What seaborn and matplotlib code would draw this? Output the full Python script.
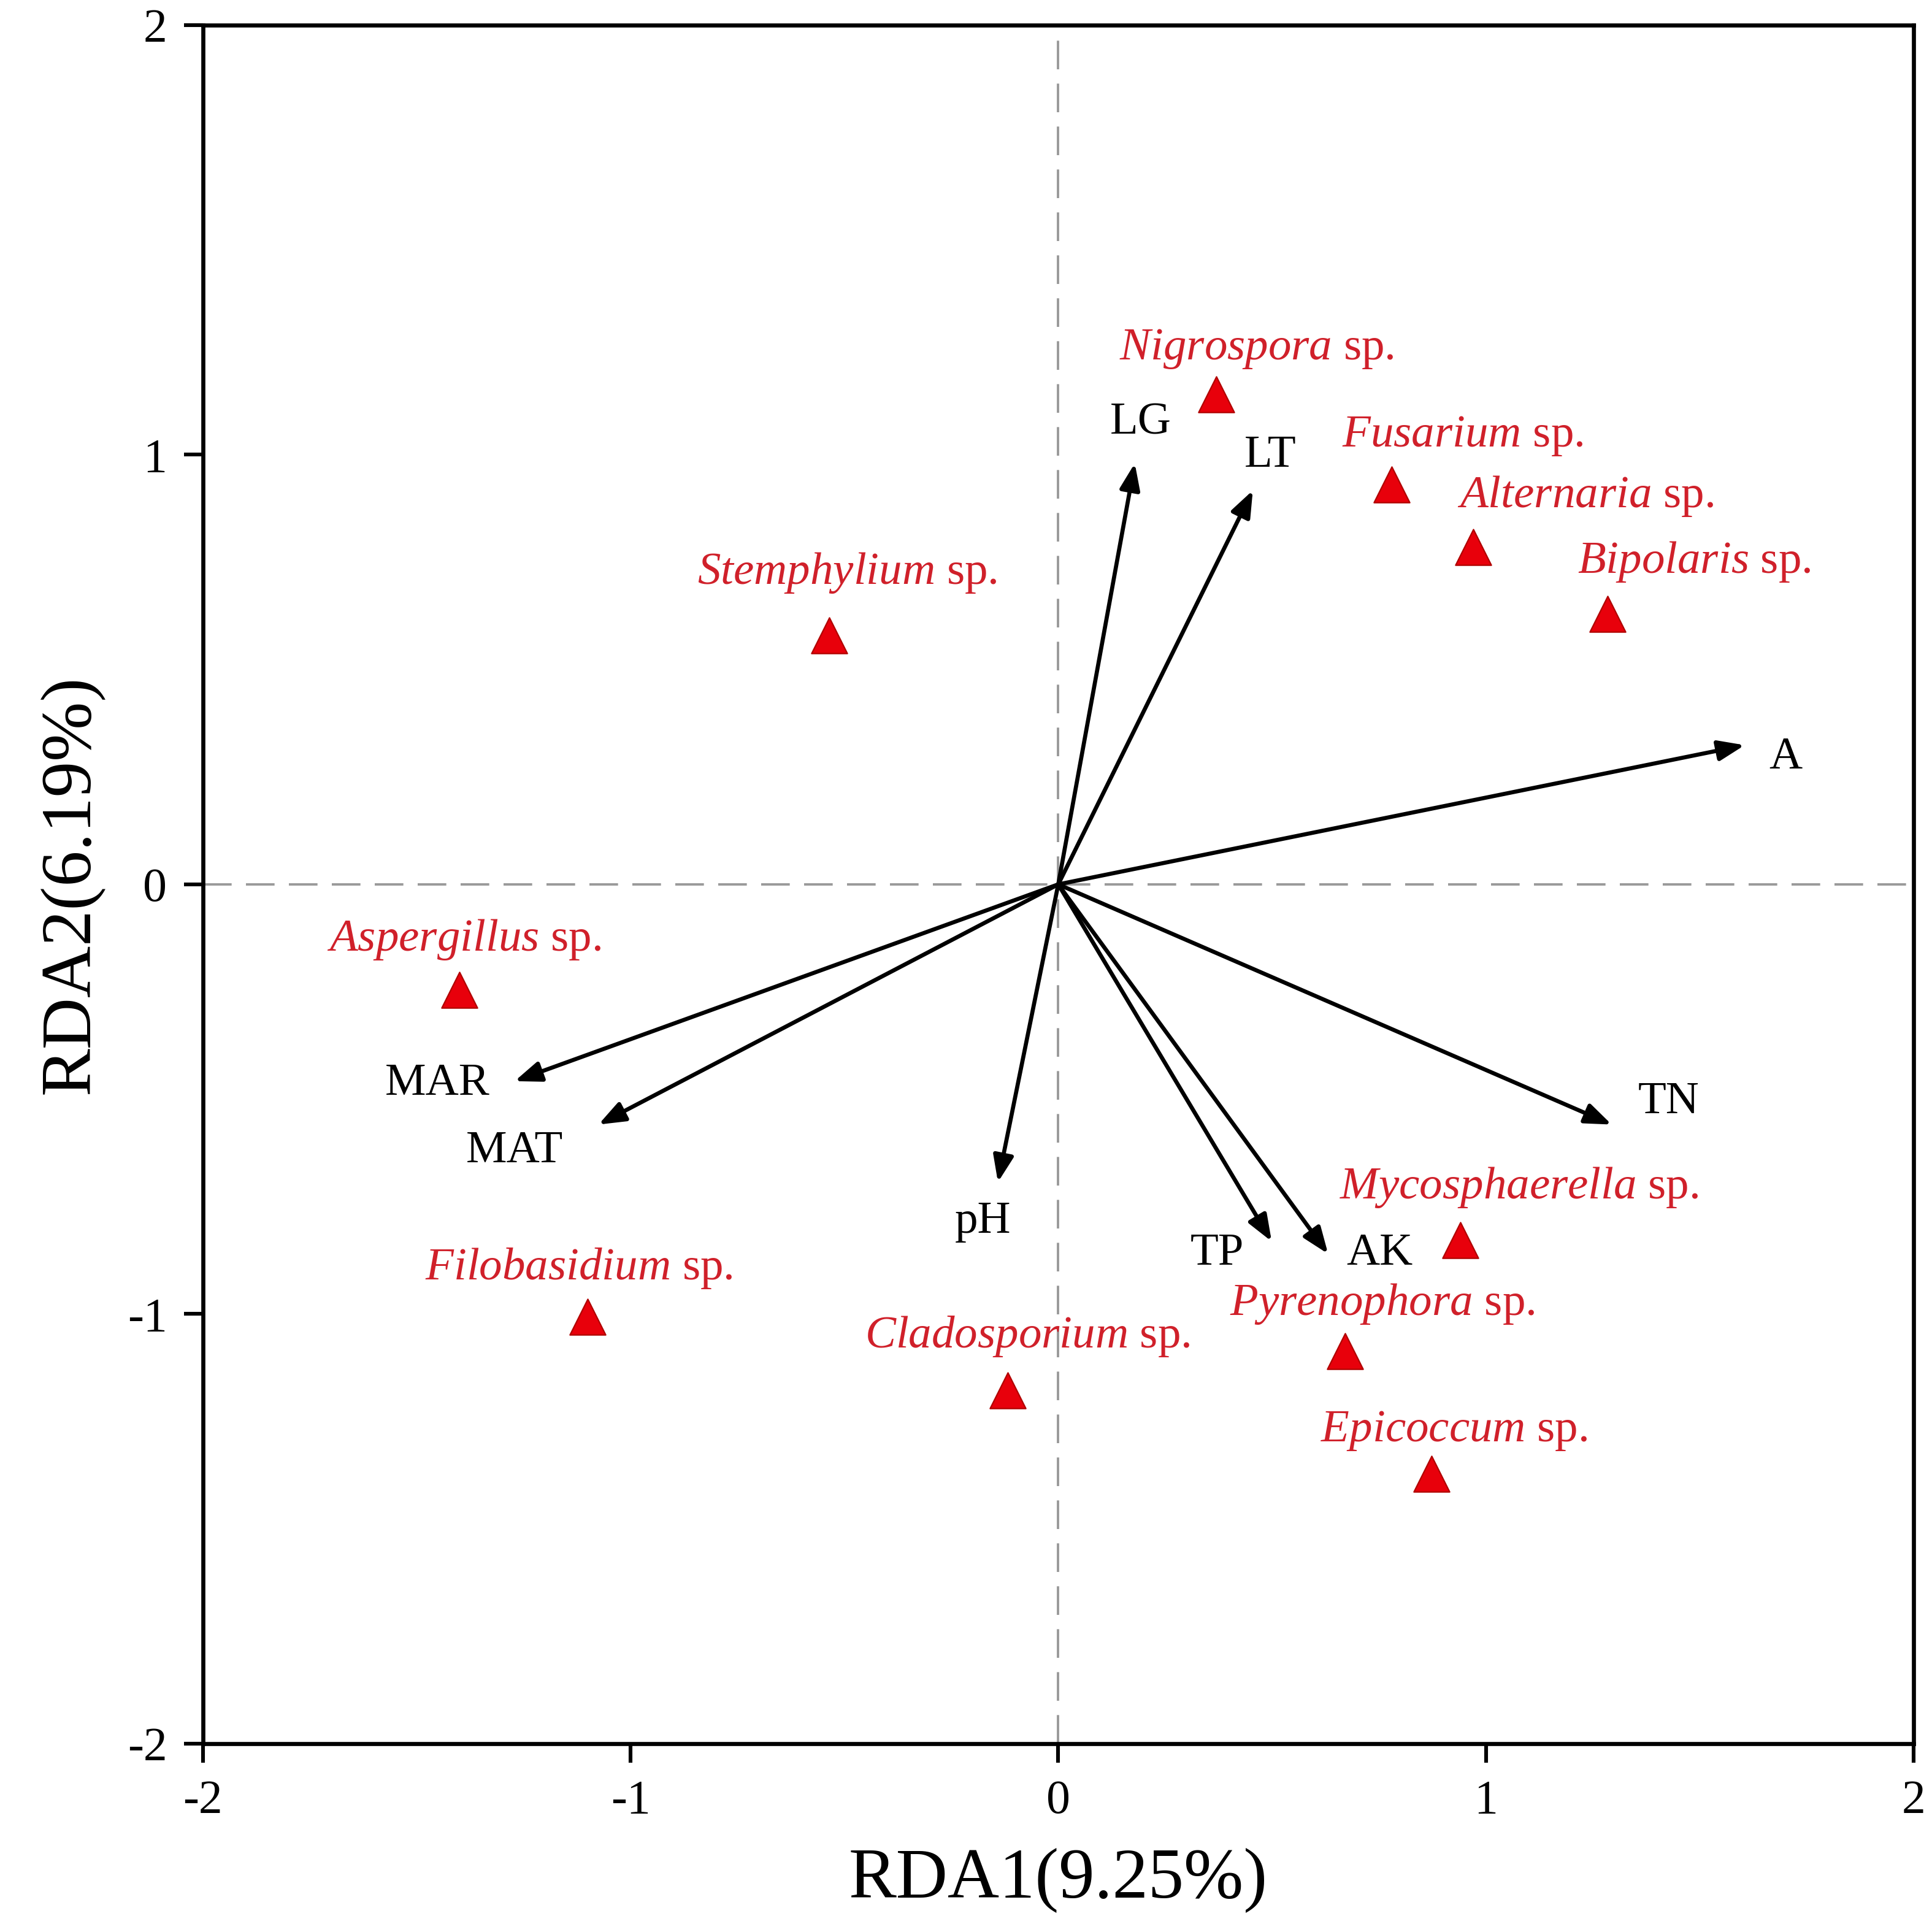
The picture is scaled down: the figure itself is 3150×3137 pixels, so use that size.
import numpy as np
import pandas as pd
import matplotlib
matplotlib.use('Agg')
import matplotlib.pyplot as plt
import seaborn as sns

# species scores (triangles)
species = ['Nigrospora', 'Fusarium', 'Alternaria', 'Bipolaris', 'Stemphylium', 'Aspergillus',
           'Filobasidium', 'Cladosporium', 'Mycosphaerella', 'Pyrenophora', 'Epicoccum']
sp_x = [0.37, 0.78, 0.97, 1.285, -0.536, -1.40, -1.10, -0.118, 0.94, 0.67, 0.873]
sp_y = [1.14, 0.93, 0.785, 0.63, 0.58, -0.246, -1.006, -1.178, -0.828, -1.086, -1.372]
# where the species names sit
sp_lab_x = [0.464, 0.945, 1.233, 1.487, -0.493, -1.389, -1.121, -0.072, 1.078, 0.758, 0.925]
sp_lab_y = [1.246, 1.043, 0.903, 0.751, 0.725, -0.129, -0.894, -1.052, -0.705, -0.977, -1.272]

# environmental arrows
env = ['LG', 'LT', 'A', 'TN', 'MAR', 'MAT', 'pH', 'TP', 'AK']
env_x = [0.179, 0.455, 1.605, 1.294, -1.271, -1.075, -0.141, 0.499, 0.631]
env_y = [0.98, 0.917, 0.324, -0.559, -0.458, -0.559, -0.693, -0.831, -0.86]
env_lab_x = [0.193, 0.496, 1.70, 1.427, -1.452, -1.271, -0.176, 0.372, 0.752]
env_lab_y = [1.074, 0.997, 0.295, -0.507, -0.464, -0.622, -0.785, -0.86, -0.86]

ticks = [-2, -1, 0, 1, 2]

sns.set_style('ticks')
plt.rcParams['font.family'] = ['Liberation Serif', 'DejaVu Serif']
plt.rcParams['mathtext.fontset'] = 'custom'
plt.rcParams['mathtext.it'] = 'Liberation Serif:italic'
plt.rcParams['mathtext.rm'] = 'Liberation Serif'

fig = plt.figure(figsize=(15.75, 15.685), dpi=200)
ax = fig.add_axes([0.105, 0.0937, 0.8855, 0.8933])

ax.axhline(0, color='#9a9a9a', lw=1.4, ls=(0, (12, 6)), zorder=1)
ax.axvline(0, color='#9a9a9a', lw=1.4, ls=(0, (12, 6)), zorder=1)

for name, x, y, lx, ly in zip(env, env_x, env_y, env_lab_x, env_lab_y):
    ax.annotate('', xy=(x, y), xytext=(0, 0),
                arrowprops=dict(arrowstyle='-|>,head_length=1.3,head_width=0.5',
                                color='black', lw=2.4, shrinkA=0, shrinkB=0), zorder=3)
    ax.text(lx, ly, name, fontsize=27, ha='center', va='center', color='black', zorder=4)

df = pd.DataFrame({'species': species, 'x': sp_x, 'y': sp_y})
sns.scatterplot(data=df, x='x', y='y', marker='^', s=440, color='#e8000b',
                edgecolor='#b00000', linewidth=0.8, ax=ax, zorder=5, legend=False)

for name, lx, ly in zip(species, sp_lab_x, sp_lab_y):
    ax.text(lx, ly, r'$\mathit{' + name + r'}$ sp.', fontsize=27, ha='center', va='center',
            color='#d0202a', zorder=4)

ax.set_xlim(-2, 2)
ax.set_ylim(-2, 2)
ax.set_xticks(ticks)
ax.set_yticks(ticks)
ax.set_xticklabels([str(t) for t in ticks], fontsize=28)
ax.set_yticklabels([str(t) for t in ticks], fontsize=28)
ax.tick_params(direction='out', length=11, width=2.2, pad=10, colors='black')
for sp in ax.spines.values():
    sp.set_linewidth(2.4)
    sp.set_color('black')
    sp.set_visible(True)

ax.set_xlabel('RDA1(9.25%)', fontsize=42, labelpad=14, color='black')
ax.set_ylabel('RDA2(6.19%)', fontsize=42, labelpad=14, color='black')

fig.savefig('out.png', dpi=200, facecolor='white')
